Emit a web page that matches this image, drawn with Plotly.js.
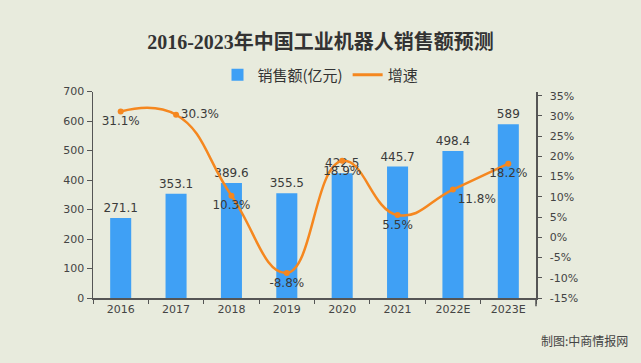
<!DOCTYPE html>
<html>
<head>
<meta charset="utf-8">
<script src="https://cdn.plot.ly/plotly-3.0.1.min.js"></script>
<style>html,body{margin:0;padding:0;background:#e8ebdd;}#chart{width:641px;height:363px;}</style>
</head>
<body>
<div id="chart"></div>
<script>
var categories = ['2016', '2017', '2018', '2019', '2020', '2021', '2022E', '2023E'];
var sales = [271.1, 353.1, 389.6, 355.5, 422.5, 445.7, 498.4, 589];
var salesLabels = ['271.1', '353.1', '389.6', '355.5', '422.5', '445.7', '498.4', '589'];
var growth = [31.1, 30.3, 10.3, -8.8, 18.9, 5.5, 11.8, 18.2];
var growthLabels = ['31.1%', '30.3%', '10.3%', '-8.8%', '18.9%', '5.5%', '11.8%', '18.2%'];
var growthTextPos = ['bottom center', 'middle right', 'bottom center', 'bottom center', 'bottom center', 'bottom center', 'bottom right', 'bottom center'];
var rightTicks = [-15, -10, -5, 0, 5, 10, 15, 20, 25, 30, 35];
var rightTickText = ['-15%', '-10%', '-5%', '0%', '5%', '10%', '15%', '20%', '25%', '30%', '35%'];
var leftTicks = [0, 100, 200, 300, 400, 500, 600, 700];

var tickFont = {family: 'DejaVu Sans, sans-serif', size: 11, color: '#444'};
var labelFont = {family: 'DejaVu Sans, sans-serif', size: 12, color: '#3a3a3a'};

var traces = [
  {
    type: 'bar', name: '销售额(亿元)', x: categories, y: sales,
    text: salesLabels, textposition: 'outside', cliponaxis: false, constraintext: 'none',
    textfont: labelFont, outsidetextfont: labelFont,
    marker: {color: '#3fa0f5'}, hoverinfo: 'skip'
  },
  {
    type: 'scatter', mode: 'lines+markers+text', name: '增速', x: categories, y: growth,
    yaxis: 'y2', text: growthLabels, textposition: growthTextPos, cliponaxis: false,
    textfont: labelFont, showlegend: false,
    line: {color: '#f5871f', width: 2.5, shape: 'spline', smoothing: 1.3},
    marker: {color: '#f5871f', size: 6}, hoverinfo: 'skip'
  },
  {
    type: 'scatter', mode: 'lines', name: '增速', x: [null], y: [null], yaxis: 'y2',
    line: {color: '#f5871f', width: 3}, hoverinfo: 'skip'
  }
];

var layout = {
  width: 641, height: 363,
  paper_bgcolor: '#e8ebdd', plot_bgcolor: '#e8ebdd',
  margin: {l: 93, r: 105, t: 78, b: 65},
  bargap: 0.62,
  showlegend: true,
  title: {
    text: '<b>2016-2023年中国工业机器人销售额预测</b>',
    font: {family: 'Liberation Serif, Noto Sans CJK SC, serif', size: 20, color: '#333'},
    x: 0.5, xref: 'container', xanchor: 'center',
    y: 1 - 42 / 363, yref: 'container', yanchor: 'middle'
  },
  legend: {
    orientation: 'h', x: 0.5, xref: 'container', xanchor: 'center',
    y: 1 - 75 / 363, yref: 'container', yanchor: 'middle',
    font: {family: 'Noto Sans CJK SC, sans-serif', size: 15, color: '#333'},
    bgcolor: 'rgba(0,0,0,0)', itemwidth: 30
  },
  xaxis: {
    type: 'category', tickson: 'boundaries', ticks: 'outside', ticklen: 4,
    tickcolor: '#555', showline: true, linecolor: '#555', linewidth: 1.5,
    showgrid: false, tickfont: tickFont, fixedrange: true
  },
  yaxis: {
    range: [0, 700], tickvals: leftTicks, ticks: 'outside', ticklen: 5,
    tickcolor: '#555', showline: true, linecolor: '#555', linewidth: 1.5,
    showgrid: false, zeroline: false, tickfont: tickFont
  },
  yaxis2: {
    overlaying: 'y', side: 'right', range: [-15, 36.04],
    tickvals: rightTicks, ticktext: rightTickText,
    ticks: 'outside', ticklen: 4, tickcolor: '#555', ticklabelstandoff: 6,
    showline: true, linecolor: '#555', linewidth: 1.5,
    showgrid: false, zeroline: false, tickfont: tickFont
  },
  shapes: [{
    type: 'line', xref: 'paper', yref: 'paper', x0: 1, x1: 1, y0: 0, y1: -0.04,
    line: {color: '#555', width: 1.5}
  }],
  annotations: [{
    text: '制图:中商情报网', xref: 'paper', yref: 'paper',
    x: (630 - 93) / 443, y: (298 - 343) / 220, xanchor: 'right', yanchor: 'middle',
    showarrow: false, font: {family: 'Noto Sans CJK SC, sans-serif', size: 12, color: '#444'}
  }]
};

Plotly.newPlot('chart', traces, layout, {staticPlot: true, displayModeBar: false});
</script>
</body>
</html>
